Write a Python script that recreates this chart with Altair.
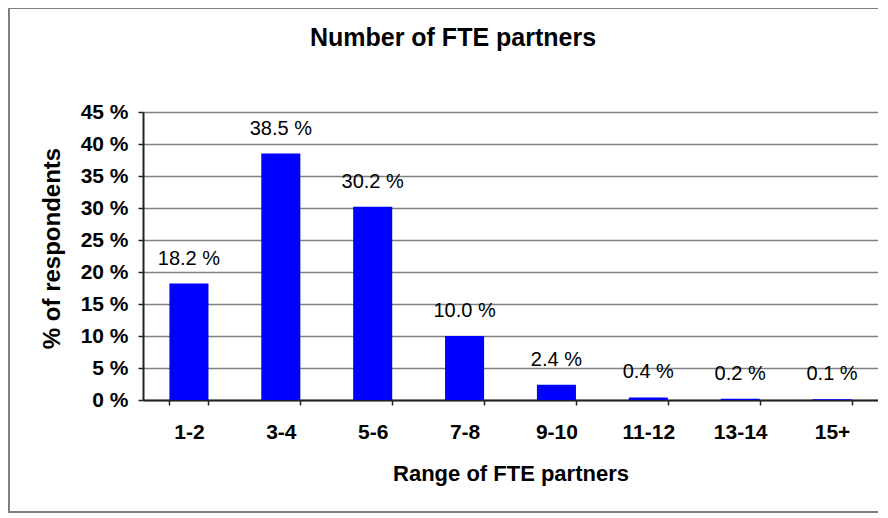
import altair as alt
import pandas as pd

categories = ["1-2", "3-4", "5-6", "7-8", "9-10", "11-12", "13-14", "15+"]
values = [18.2, 38.5, 30.2, 10.0, 2.4, 0.4, 0.2, 0.1]
y_ticks = [0, 5, 10, 15, 20, 25, 30, 35, 40, 45]
chart_title = ["Number of FTE partners"]

df = pd.DataFrame({"range": categories, "pct": values})

FONT = "Liberation Sans"
W, H = 735, 288

x = alt.X(
    "range:N", sort=categories, title="Range of FTE partners",
    scale=alt.Scale(paddingInner=0.575, paddingOuter=0.2875),
    axis=alt.Axis(
        labelAngle=0, labelFont=FONT, labelFontSize=21, labelFontWeight="bold",
        labelColor="black", labelPadding=16, tickBand="extent", tickSize=5,
        tickColor="#222222", tickWidth=1.5, domainColor="#222222", domainWidth=2,
        grid=False, titleFont=FONT, titleFontSize=22, titleFontWeight="bold",
        titleColor="black", titleY=73, titleBaseline="middle",
    ),
)

y = alt.Y(
    "pct:Q", title="% of respondents",
    scale=alt.Scale(domain=[0, 45], nice=False),
    axis=alt.Axis(
        values=y_ticks, labelExpr="datum.value + ' %'", labelFont=FONT,
        labelFontSize=21, labelFontWeight="bold", labelColor="black",
        labelPadding=10, tickSize=5, tickColor="#222222", tickWidth=1.5,
        domainColor="#222222", domainWidth=2, gridColor="#808080", gridWidth=1.5,
        gridOpacity=1, titleFont=FONT, titleFontSize=24, titleFontWeight="bold",
        titleColor="black", titleX=-91, titleY=136, titleBaseline="middle",
    ),
)

bars = alt.Chart(df).mark_bar(color="#0000FF").encode(x=x, y=y)

labels = alt.Chart(df).transform_calculate(
    label="format(datum.pct, '.1f') + ' %'"
).mark_text(
    font=FONT, fontSize=20, baseline="alphabetic", dy=-19, color="black"
).encode(x=x, y=y, text="label:N")

title = alt.Chart(pd.DataFrame({"t": chart_title})).mark_text(
    font=FONT, fontSize=25, fontWeight="bold", color="black",
    align="center", baseline="middle"
).encode(text="t:N", x=alt.value(310), y=alt.value(-74))

border = alt.Chart(pd.DataFrame({"a": [0]})).mark_rect(
    fill="transparent", stroke="#808080", strokeWidth=2
).encode(
    x=alt.value(-134), x2=alt.value(760), y=alt.value(-104), y2=alt.value(400)
)

chart = alt.layer(bars, labels, title, border).properties(
    width=W, height=H,
    autosize=alt.AutoSizeParams(type="none"),
    padding={"left": 135, "top": 104, "right": 0, "bottom": 114},
).configure_view(
    stroke="#808080", strokeWidth=2
).configure(background="white")

chart.save("out.html", embed_options={"renderer": "svg", "actions": False})
